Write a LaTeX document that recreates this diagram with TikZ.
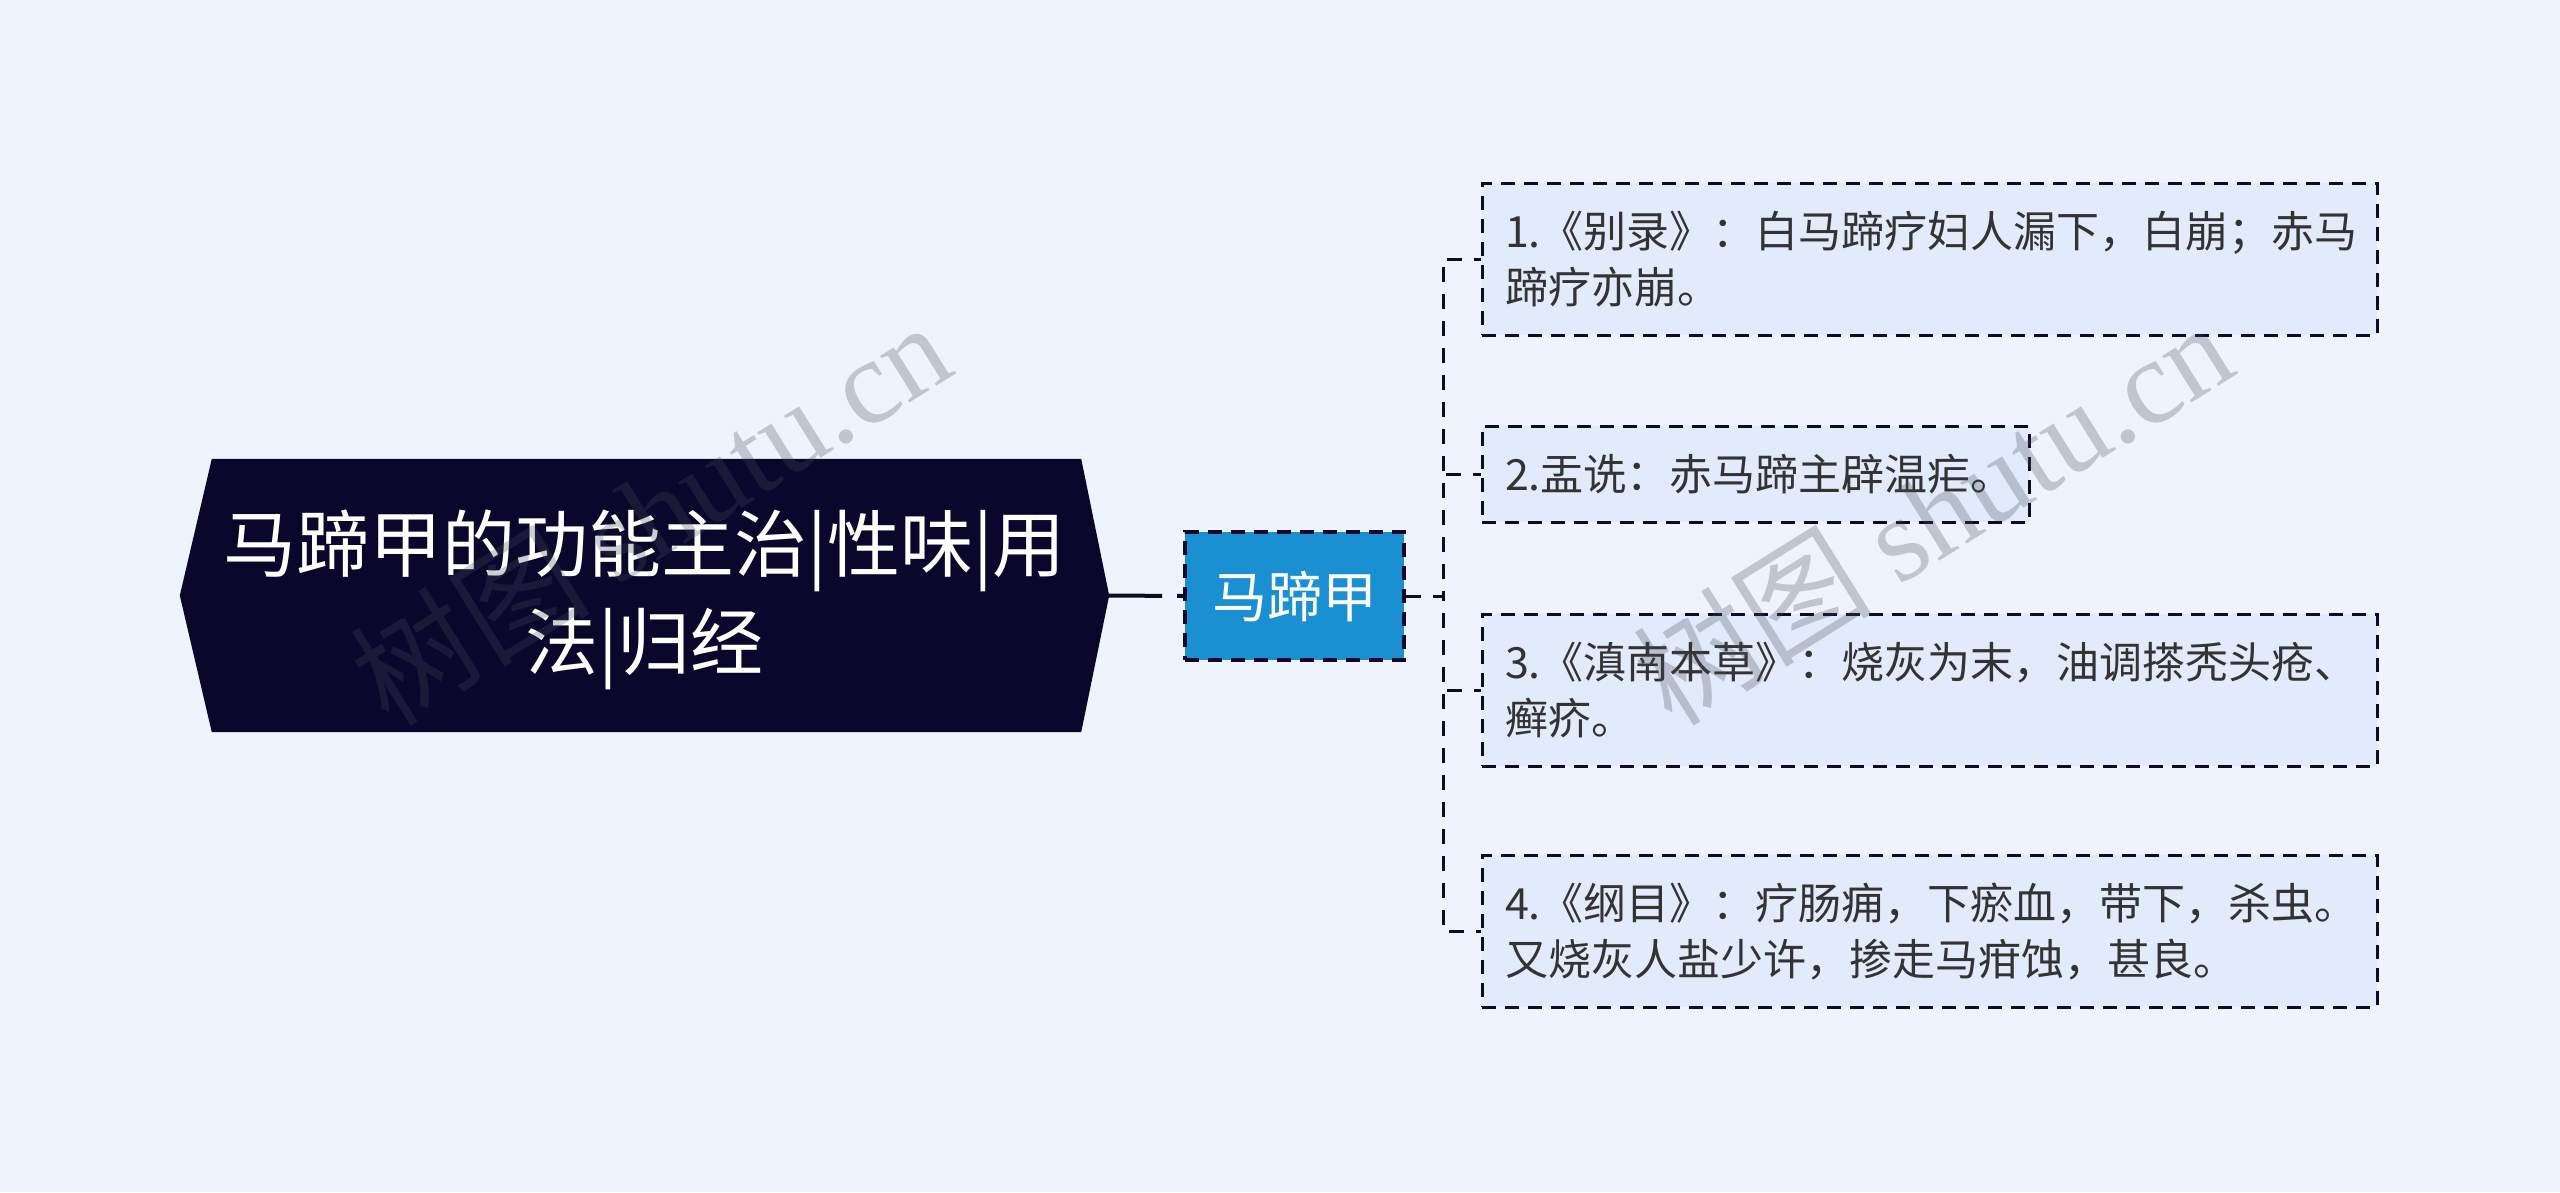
\documentclass[tikz,border=0pt]{standalone}
\usepackage{fontspec}
\setmainfont{Noto Sans CJK SC}
\newfontfamily\wmserif{Liberation Serif}
\usetikzlibrary{calc}
\definecolor{bgc}{RGB}{238,243,253}
\definecolor{rootfill}{RGB}{11,7,44}
\definecolor{subfill}{RGB}{26,144,210}
\definecolor{boxfill}{RGB}{226,235,251}
\definecolor{linec}{RGB}{13,11,40}
\definecolor{textc}{RGB}{51,51,51}
\definecolor{wmc}{RGB}{70,75,92}
\tikzset{
  rootnode/.style={minimum width=929pt,minimum height=273pt,inner sep=0pt,align=center,text=white,
    font=\fontsize{73}{98}\selectfont},
  subnode/.style={draw=linec,fill=subfill,line width=4pt,dash pattern=on 14pt off 9pt,
    minimum width=219pt,minimum height=128pt,inner sep=0pt,text=white,font=\fontsize{55}{66}\selectfont},
  leafbox/.style={draw=linec,fill=boxfill,line width=3pt,dash pattern=on 14pt off 9pt,
    minimum height=#1,inner xsep=23pt,inner ysep=0pt,align=left,text=textc,
    font=\fontsize{43}{56}\selectfont},
  conn/.style={draw=linec,line width=3pt,dash pattern=on 15pt off 12pt},
  mainconn/.style={draw=linec,line width=4pt,dash pattern=on 53pt off 15pt},
  wm/.style={text=wmc,opacity=0.27,rotate=32,font=\fontsize{120}{124}\selectfont,inner sep=0pt}
}
\begin{document}
\begin{tikzpicture}[x=1pt,y=-1pt]
\fill[bgc] (0,0) rectangle (2560,1192);
\useasboundingbox (0,0) rectangle (2560,1192);

% root
\node[rootnode] (root) at (644.5,595.5) {};
\fill[rootfill] (root.west) -- ($(root.north west)+(32,0)$) -- ($(root.north east)+(-28,0)$)
  -- (root.east) -- ($(root.south east)+(-28,0)$) -- ($(root.south west)+(32,0)$) -- cycle;
\node[rootnode] (roottext) at (644.5,600) {马蹄甲的功能主治|性味|用\\法|归经};

% subject
\node[subnode] (sub) at (1294.5,596) {马蹄甲};
\draw[mainconn] (root.east) -- (sub.west);

% leaves
\node[leafbox=152pt,text width=849pt] (b1) at (1929.5,259) {1.《别录》：白马蹄疗妇人漏下，白崩；赤马\\蹄疗亦崩。};
\node[leafbox=96pt,text width=501pt] (b2) at (1755.5,474) {2.盂诜：赤马蹄主辟温疟。};
\node[leafbox=152pt,text width=849pt] (b3) at (1929.5,690) {3.《滇南本草》：烧灰为末，油调搽秃头疮、\\癣疥。};
\node[leafbox=152pt,text width=849pt] (b4) at (1929.5,931) {4.《纲目》：疗肠痈，下瘀血，带下，杀虫。\\又烧灰人盐少许，掺走马疳蚀，甚良。};

\coordinate (hub) at (1443,596);
\draw[conn] (sub.east) -- (hub) |- (b1.west);
\draw[conn] (sub.east) -- (hub) |- (b2.west);
\draw[conn] (sub.east) -- (hub) |- (b3.west);
\draw[conn] (sub.east) -- (hub) |- (b4.west);

% watermarks
\node[wm] (wm1) at (650,512) {树图 {\wmserif shutu.cn}};
\node[wm] (wm2) at (1932,512) {树图 {\wmserif shutu.cn}};
\end{tikzpicture}
\end{document}
